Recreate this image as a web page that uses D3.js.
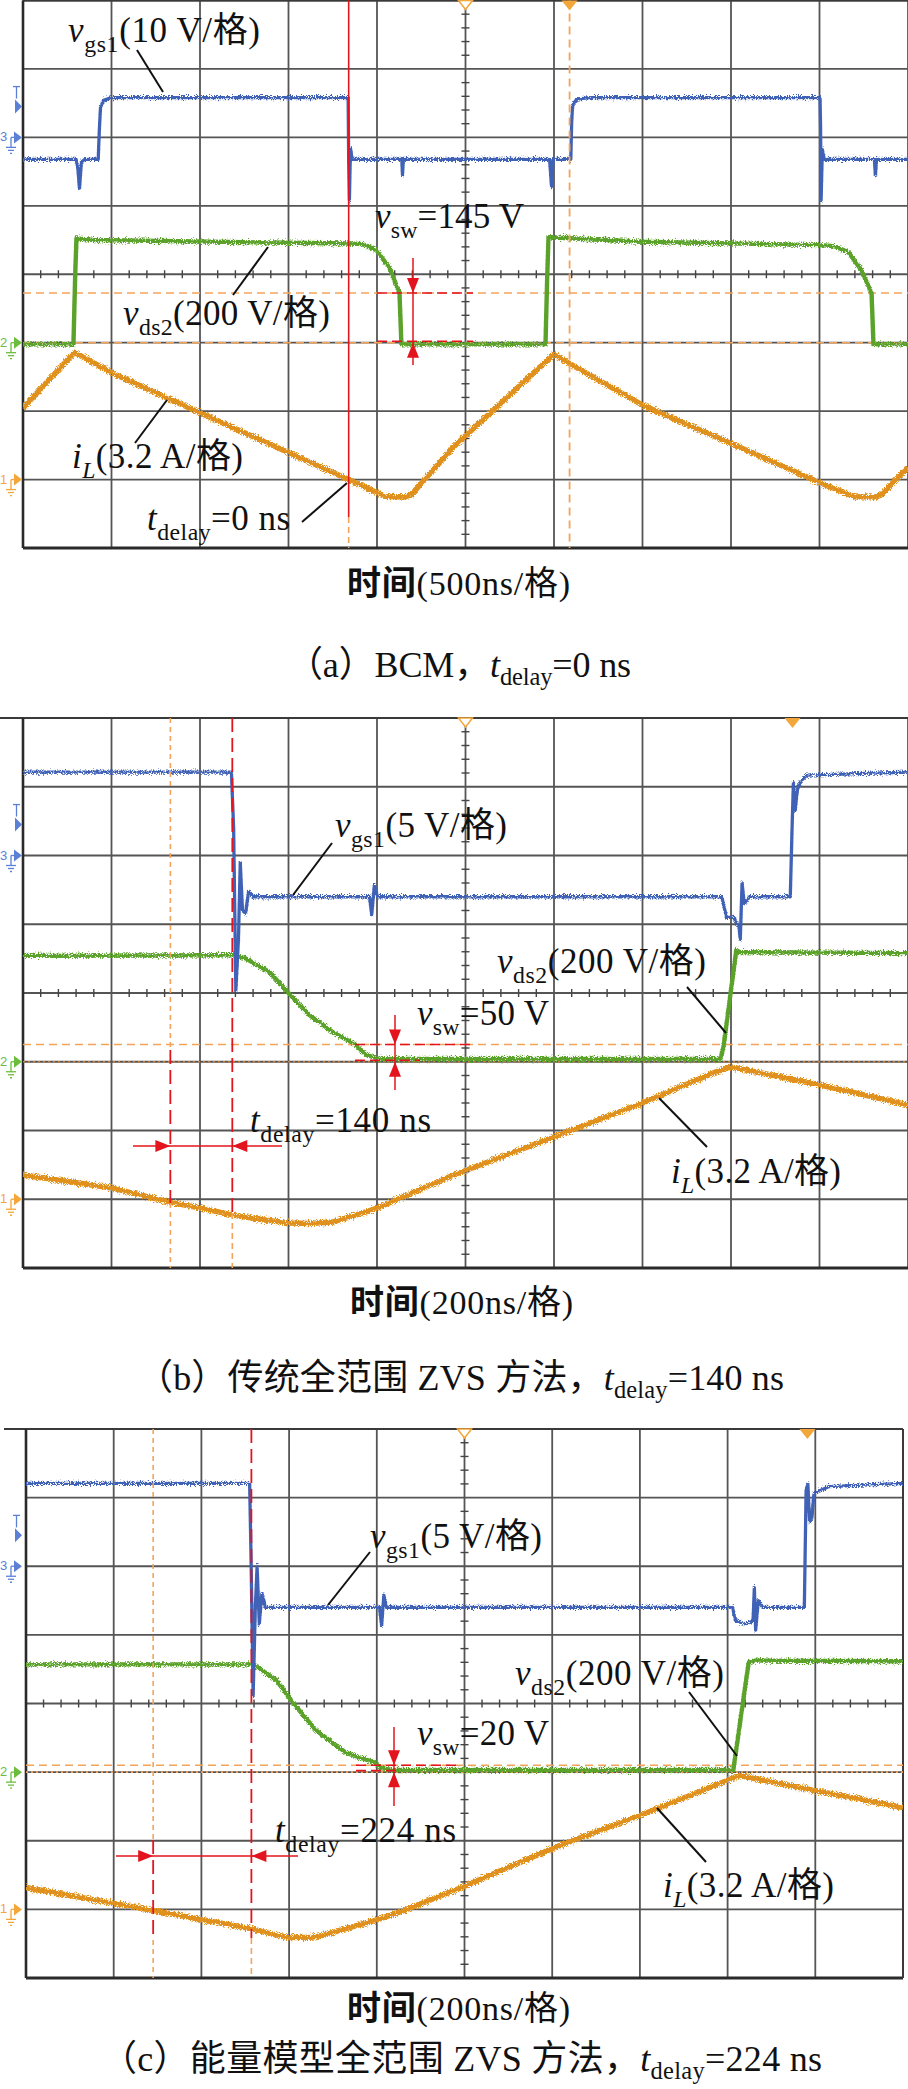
<!DOCTYPE html>
<html><head><meta charset="utf-8">
<script src="https://cdn.jsdelivr.net/npm/d3@7"></script>
<style>body{margin:0;background:#fff}svg{display:block}</style>
</head><body>
<svg id="c" width="908" height="2089"></svg>
<script>
// ---------------- DATA ----------------
const timePerDiv = [500, 200, 200];   // ns/格
const vgsPerDiv  = [10, 5, 5];        // V/格
const vdsPerDiv  = [200, 200, 200];   // V/格
const iLPerDiv   = [3.2, 3.2, 3.2];   // A/格

// [time ns, value]
const vgs1_a = [[-2500,-3.2],[-2200,-3.2],[-2190,-4.6],[-2181,-7.4],[-2170,-3.6],[-2150,-3.2],[-2075,-3.2],[-2068,1.5],[-2062,4.4],[-2045,5.4],[-2000,5.8],[-663,5.8],[-660,-3.5],[-656,-9.2],[-650,-1.6],[-640,-3.2],[-360,-3.2],[-356,-5.5],[-351,-3.2],[475,-3.2],[486,-7.2],[495,-3.2],[595,-3.2],[600,2.5],[606,4.8],[630,5.6],[700,5.8],[2003,5.8],[2006,1.5],[2009,-9.2],[2016,-1.8],[2028,-3.2],[2310,-3.2],[2316,-5.6],[2322,-3.2],[2500,-3.2]];
const vds2_a = [[-2500,-5],[-2215,-5],[-2205,200],[-2198,305],[-2100,300],[-1000,292],[-661,290],[-582,288],[-503,270],[-429,218],[-373,145],[-362,-5],[452,-5],[462,200],[469,308],[1000,295],[2006,285],[2085,282],[2164,264],[2237,212],[2294,145],[2305,-5],[2500,-5]];
const iL_a   = [[-2500,3.34],[-2209,5.95],[-1994,4.97],[-1497,3.11],[-661,0],[-503,-0.6],[-458,-0.78],[-345,-0.82],[-305,-0.7],[-68,1.52],[158,3.25],[497,5.85],[1000,3.48],[1497,1.7],[2006,-0.16],[2153,-0.65],[2198,-0.8],[2322,-0.82],[2350,-0.7],[2500,0.58]];

const vgs1_b = [[-1000,6.07],[-529,6.07],[-524,2],[-519,-9.8],[-513,-6],[-509,-0.5],[-504,-4],[-497,-4.2],[-490,-2.6],[-480,-3.0],[-217,-3.0],[-212,-4.3],[-206,-2.2],[-199,-3.0],[579,-3.0],[590,-4.5],[606,-4.5],[618,-5.2],[621,-6.1],[625,-2.0],[630,-3.5],[642,-3.0],[734,-3.0],[738,2],[741,5.3],[745,3.3],[750,4.8],[758,5.4],[771,5.85],[1000,6.07]];
const vds2_b = [[-1000,308],[-527,310],[-499,302],[-443,261],[-400,200],[-353,136],[-301,87],[-251,52],[-224,20],[-194,8],[576,8],[583,43],[612,325],[619,319],[1000,316]];
const iL_b   = [[-1000,1.13],[-798,0.52],[-662,-0.17],[-599,-0.41],[-527,-0.73],[-450,-0.98],[-400,-1.1],[-353,-1.13],[-301,-1.06],[-250,-0.75],[-199,-0.41],[-27,1.13],[199,2.89],[400,4.48],[560,5.88],[599,6.16],[802,5.32],[1000,4.39]];

const vgs1_c = [[-1000,6.04],[-490,6.04],[-487,1],[-482,-9.4],[-477,-3],[-473,0],[-468,-4.2],[-462,-2.0],[-454,-3.0],[-194,-3.0],[-189,-4.3],[-184,-2.1],[-178,-3.0],[611,-3.0],[618,-3.95],[640,-4.2],[658,-4.0],[661,-1.55],[664,-4.66],[670,-2.5],[680,-3.0],[775,-3.0],[779,5.5],[783,6.0],[787,3.3],[792,3.5],[797,5.3],[830,5.8],[1000,6.04]];
const vds2_c = [[-1000,314],[-486,314],[-465,300],[-429,268],[-390,200],[-338,121],[-271,57],[-205,28],[-192,12],[-162,6],[613,6],[648,320],[660,325],[1000,323]];
const iL_c   = [[-1000,1.02],[-709,-0.06],[-486,-0.9],[-440,-1.15],[-401,-1.31],[-350,-1.3],[-324,-1.22],[-271,-0.9],[-205,-0.52],[-139,-0.06],[-7,1.02],[205,2.88],[429,4.61],[627,6.24],[798,5.54],[1000,4.75]];

const vgs1Series = [vgs1_a, vgs1_b, vgs1_c];
const vds2Series = [vds2_a, vds2_b, vds2_c];
const iLSeries   = [iL_a, iL_b, iL_c];

const cursorRed    = [-660, -527, -486];   // ns
const cursorOrange = [588, -667, -710];    // ns
const triggerMarkT = [588, 739, 782];      // ns
const vswValues    = [145, 50, 20];        // V
const tdelayValues = [0, 140, 224];        // ns

const gsScaleLabels = ["10 V/格", "5 V/格", "5 V/格"];
const axisTitles = ["时间(500ns/格)", "时间(200ns/格)", "时间(200ns/格)"];
const captionHeads = ["（a）BCM，", "（b）传统全范围 ZVS 方法，", "（c）能量模型全范围 ZVS 方法，"];

// ---------------- LAYOUT ----------------
const boxes = [
  {l:23, r:908, t:0.5, b:548, topFrom:23},
  {l:23, r:908, t:718, b:1268, topFrom:0},
  {l:26, r:903, t:1429, b:1978, topFrom:4}
];
const CH3_OFF = 2, CH2_OFF = -1, CH1_OFF = -3, TRIG_OFF = 2.45;
const SERIF = "'Liberation Serif','Times New Roman',serif";
const CJK = "'Noto Sans CJK SC','Noto Sans CJK JP',sans-serif";
const COL = {blue:"#4162b6", green:"#5aa229", orange:"#e0901a", grid:"#555", red:"#e3141e", cur:"#f3a45a",
             mBlue:"#5b80d6", mGreen:"#6cbd3d", mOrange:"#f3a63a"};

const ann = [
  {gs:{x:68,y:42,len:192,ld:[137,50,163,92]}, ds:{x:123,y:325,len:207,ld:[233,295,268,247]}, sw:{x:375,y:228,len:149},
   il:{x:72,y:468,len:171,ld:[135,443,167,400]}, td:{x:147,y:530,len:143,ld:[302,522,347,483]},
   swDim:{x:413,y1:258,y2:365,l1:[377,473],l2:[377,473]}, tdDim:null,
   title:{x:347,y:595,len:223}, cap:{x:287,y:677,len:344}},
  {gs:{x:335,y:837,len:172,ld:[332,843,293,895]}, ds:{x:497,y:973,len:209,ld:[687,987,726,1033]}, sw:{x:417,y:1025,len:132},
   il:{x:671,y:1183,len:170,ld:[659,1098,707,1147]}, td:{x:250,y:1132,len:181,ld:null},
   swDim:{x:395,y1:1015,y2:1090,l1:[355,475],l2:[355,420]}, tdDim:{y:1146,x1:133,x2:282},
   title:{x:350,y:1314,len:223}, cap:{x:137,y:1390,len:647}},
  {gs:{x:370,y:1548,len:172,ld:[370,1552,328,1605]}, ds:{x:515,y:1685,len:209,ld:[689,1692,737,1756]}, sw:{x:417,y:1745,len:132},
   il:{x:663,y:1897,len:171,ld:[657,1808,706,1862]}, td:{x:275,y:1842,len:181,ld:null},
   swDim:{x:394,y1:1727,y2:1806,l1:[356,460],l2:[356,400]}, tdDim:{y:1856,x1:116,x2:298},
   title:{x:347,y:2020,len:223}, cap:{x:101,y:2071,len:721}}
];

// ---------------- DRAW ----------------
const svg = d3.select("#c");
svg.append("rect").attr("width",908).attr("height",2089).attr("fill","#fff");
const defs = svg.append("defs");
const flt = defs.append("filter").attr("id","nz").attr("x","-2%").attr("y","-20%").attr("width","104%").attr("height","140%");
flt.append("feTurbulence").attr("type","fractalNoise").attr("baseFrequency","1.4 0.9").attr("numOctaves",1).attr("seed",5).attr("result","t");
flt.append("feColorMatrix").attr("in","t").attr("type","matrix").attr("values","0 0 0 0 0.5  0 1 0 0 0  0 0 0 0 0  0 0 0 0 1").attr("result","m");
flt.append("feDisplacementMap").attr("in","SourceGraphic").attr("in2","m").attr("scale",8).attr("xChannelSelector","R").attr("yChannelSelector","G");

const CJK_RE = /[\u3000-\u303f\u4e00-\u9fff\uff00-\uffef]/;
function splitRuns(str){
  const runs=[]; let cur="", curC=null;
  for(const ch of str){
    const c = CJK_RE.test(ch);
    if(curC===null || c===curC){ cur+=ch; curC=c; }
    else { runs.push({t:cur,cjk:curC}); cur=ch; curC=c; }
  }
  if(cur) runs.push({t:cur,cjk:curC});
  return runs;
}
function rich(g, x, y, parts, fs, len, boldCjk, subDrop){
  const drop = subDrop || 0.28;
  const t = g.append("text").attr("x",x).attr("y",y).attr("font-size",fs).attr("font-family",SERIF).attr("fill","#111");
  let sub=false;
  parts.forEach(p=>{
    splitRuns(p.t).forEach((r,ri)=>{
      const s = t.append("tspan").text(r.t).attr("font-family", r.cjk?CJK:SERIF);
      if(r.cjk && boldCjk && r.t.indexOf("时")>=0) s.attr("font-weight","bold");
      if(p.it) s.attr("font-style","italic");
      if(p.sub){ s.attr("font-size",fs*0.68); if(!sub){ s.attr("dy",fs*drop); sub=true; } }
      else if(sub){ s.attr("dy",-fs*drop); sub=false; }
    });
  });
  if(len) t.attr("textLength",len).attr("lengthAdjust","spacing");
  return t;
}
function arrowHead(g, x, y, dir, col){
  const L=15, w=6; let pts;
  if(dir==="down") pts=[[x,y],[x-w,y-L],[x+w,y-L]];
  if(dir==="up") pts=[[x,y],[x-w,y+L],[x+w,y+L]];
  if(dir==="right") pts=[[x,y],[x-L,y-w],[x-L,y+w]];
  if(dir==="left") pts=[[x,y],[x+L,y-w],[x+L,y+w]];
  g.append("polygon").attr("points",pts.map(p=>p.join(",")).join(" ")).attr("fill",col);
}
function line(g,x1,y1,x2,y2,col,w,dash){
  const l=g.append("line").attr("x1",x1).attr("y1",y1).attr("x2",x2).attr("y2",y2).attr("stroke",col).attr("stroke-width",w);
  if(dash) l.attr("stroke-dasharray",dash);
  return l;
}
function groundMarker(g, y, col, label){
  g.append("text").attr("x",0).attr("y",y+4).attr("font-size",13).attr("font-family","'Liberation Sans',sans-serif").attr("fill",col).text(label);
  line(g,11,y,15,y,col,1.3); line(g,11,y,11,y+10,col,1.3);
  line(g,6,y+10,16,y+10,col,1.3); line(g,8,y+13,14,y+13,col,1.3); line(g,10,y+16,12,y+16,col,1.3);
  g.append("polygon").attr("points",`${14},${y-6} ${22},${y} ${14},${y+6}`).attr("fill",col);
}
function trigMarker(g, y, col){
  line(g,13,y-20,20,y-20,col,1.3); line(g,16.5,y-20,16.5,y-8,col,1.3);
  g.append("polygon").attr("points",`${15},${y-7} ${22},${y} ${15},${y+7}`).attr("fill",col);
}

boxes.forEach((P,i)=>{
  const g = svg.append("g");
  const xT = d3.scaleLinear().domain([-5*timePerDiv[i], 5*timePerDiv[i]]).range([P.l,P.r]);
  const xD = d3.scaleLinear().domain([-5,5]).range([P.l,P.r]);
  const yD = d3.scaleLinear().domain([-4,4]).range([P.b,P.t]);
  const yG = d3.scaleLinear().domain([(-4-CH3_OFF)*vgsPerDiv[i], (4-CH3_OFF)*vgsPerDiv[i]]).range([P.b,P.t]);
  const yV = d3.scaleLinear().domain([(-4-CH2_OFF)*vdsPerDiv[i], (4-CH2_OFF)*vdsPerDiv[i]]).range([P.b,P.t]);
  const yI = d3.scaleLinear().domain([(-4-CH1_OFF)*iLPerDiv[i], (4-CH1_OFF)*iLPerDiv[i]]).range([P.b,P.t]);

  // grid
  d3.range(-5,6).forEach(k=>line(g,xD(k),P.t,xD(k),P.b,COL.grid,1.8));
  d3.range(-4,5).forEach(k=>line(g,P.l,yD(k),P.r,yD(k),COL.grid,1.8));
  // border
  line(g,P.topFrom,P.t,P.r,P.t,"#3a3a3a",2.2);
  line(g,P.l,P.b,P.r,P.b,"#2a2a2a",2.8);
  line(g,P.l,P.t,P.l,P.b,"#2a2a2a",2.6);
  if(i===2) line(g,P.r,P.t,P.r,P.b,"#3a3a3a",2);
  // minor ticks on centre axes
  d3.range(-25,26).forEach(k=>{ if(k%5) line(g,xD(k/5),yD(0)-4,xD(k/5),yD(0)+4,"#444",1.4); });
  d3.range(-20,21).forEach(k=>{ if(k%5) line(g,xD(0)-4,yD(k/5),xD(0)+4,yD(k/5),"#444",1.4); });

  // left channel markers
  trigMarker(g, yD(TRIG_OFF), COL.mBlue);
  groundMarker(g, yD(CH3_OFF), COL.mBlue, "3");
  groundMarker(g, yD(CH2_OFF), COL.mGreen, "2");
  groundMarker(g, yD(CH1_OFF), COL.mOrange, "1");

  // horizontal cursors (orange)
  line(g,P.l,yV(vswValues[i]),P.r,yV(vswValues[i]),COL.cur,1.6,"8,5");
  line(g,P.l,yV(0),P.r,yV(0),i===1?"#c8803a":COL.cur,1.6,i===0?"8,5":"2,3");

  // traces
  const clipId = "clip"+i;
  defs.append("clipPath").attr("id",clipId).append("rect").attr("x",P.l).attr("y",P.t).attr("width",P.r-P.l).attr("height",P.b-P.t);
  const tg = g.append("g").attr("clip-path",`url(#${clipId})`);
  const mk = (ys)=>d3.line().x(d=>xT(d[0])).y(d=>ys(d[1])).curve(d3.curveLinear);
  tg.append("path").attr("d",mk(yI)(iLSeries[i])).attr("fill","none").attr("stroke",COL.orange).attr("stroke-width",5.5).attr("stroke-linejoin","round").attr("filter","url(#nz)");
  tg.append("path").attr("d",mk(yV)(vds2Series[i])).attr("fill","none").attr("stroke",COL.green).attr("stroke-width",4.4).attr("stroke-linejoin","round").attr("filter","url(#nz)");
  tg.append("path").attr("d",mk(yG)(vgs1Series[i])).attr("fill","none").attr("stroke",COL.blue).attr("stroke-width",3.3).attr("stroke-linejoin","round").attr("filter","url(#nz)");

  // vertical cursors
  const xr = xT(cursorRed[i]), xo = xT(cursorOrange[i]);
  if(i===0){
    line(g,xr,P.t,xr,517,COL.red,1.6);
    line(g,xr,517,xr,P.b,COL.cur,1.6,"6,4");
    line(g,xo,P.t,xo,P.b,COL.cur,1.8,"8,5");
  } else {
    const redEnd = i===1?1213:1938, oTop = i===1?1050:1840, oBot = i===1?1203:1940;
    line(g,xr,P.t,xr,redEnd,COL.red,1.8,"14,6");
    line(g,xr,redEnd,xr,P.b,COL.cur,1.6,"6,4");
    line(g,xo,P.t,xo,oTop,COL.cur,1.6,"5,4");
    line(g,xo,oTop,xo,oBot,COL.red,1.8,"14,6");
    line(g,xo,oBot,xo,P.b,COL.cur,1.6,"5,4");
  }
  // top trigger markers
  const xc = xD(0);
  g.append("polygon").attr("points",`${xc-7},${P.t} ${xc+7},${P.t} ${xc},${P.t+9}`).attr("fill","#fff").attr("stroke",COL.mOrange).attr("stroke-width",1.5);
  const xm = xT(triggerMarkT[i]);
  g.append("polygon").attr("points",`${xm-8},${P.t} ${xm+8},${P.t} ${xm},${P.t+10}`).attr("fill",COL.mOrange);

  // vsw dimension
  const A = ann[i], sd = A.swDim;
  line(g,sd.l1[0],yV(vswValues[i]),sd.l1[1],yV(vswValues[i]),COL.red,1.6,"10,5");
  line(g,sd.l2[0],yV(0)-1.5,sd.l2[1],yV(0)-1.5,COL.red,1.6,"10,5");
  line(g,sd.x,sd.y1,sd.x,sd.y2,COL.red,1.5);
  arrowHead(g,sd.x,yV(vswValues[i]),"down",COL.red);
  arrowHead(g,sd.x,yV(0),"up",COL.red);
  // tdelay dimension
  if(A.tdDim){
    line(g,A.tdDim.x1,A.tdDim.y,A.tdDim.x2,A.tdDim.y,COL.red,1.6);
    arrowHead(g,xo,A.tdDim.y,"right",COL.red);
    arrowHead(g,xr,A.tdDim.y,"left",COL.red);
  }

  // annotations
  const FS = 35;
  rich(g,A.gs.x,A.gs.y,[{t:"v",it:1},{t:"gs1",sub:1},{t:"("+gsScaleLabels[i]+")"}],FS,A.gs.len);
  rich(g,A.ds.x,A.ds.y,[{t:"v",it:1},{t:"ds2",sub:1},{t:"(200 V/格)"}],FS,A.ds.len);
  rich(g,A.sw.x,A.sw.y,[{t:"v",it:1},{t:"sw",sub:1},{t:"="+vswValues[i]+" V"}],FS,A.sw.len);
  rich(g,A.il.x,A.il.y,[{t:"i",it:1},{t:"L",sub:1,it:1},{t:"(3.2 A/格)"}],FS,A.il.len);
  rich(g,A.td.x,A.td.y,[{t:"t",it:1},{t:"delay",sub:1},{t:"="+tdelayValues[i]+" ns"}],FS,A.td.len);
  [A.gs,A.ds,A.il,A.td].forEach(a=>{ if(a.ld) line(g,a.ld[0],a.ld[1],a.ld[2],a.ld[3],"#111",2); });

  // axis title and caption
  rich(g,A.title.x,A.title.y,[{t:axisTitles[i]}],34,A.title.len,true);
  rich(g,A.cap.x,A.cap.y,[{t:captionHeads[i]},{t:"t",it:1},{t:"delay",sub:1},{t:"="+tdelayValues[i]+" ns"}],36,A.cap.len,false,0.22);
});
</script>
</body></html>
